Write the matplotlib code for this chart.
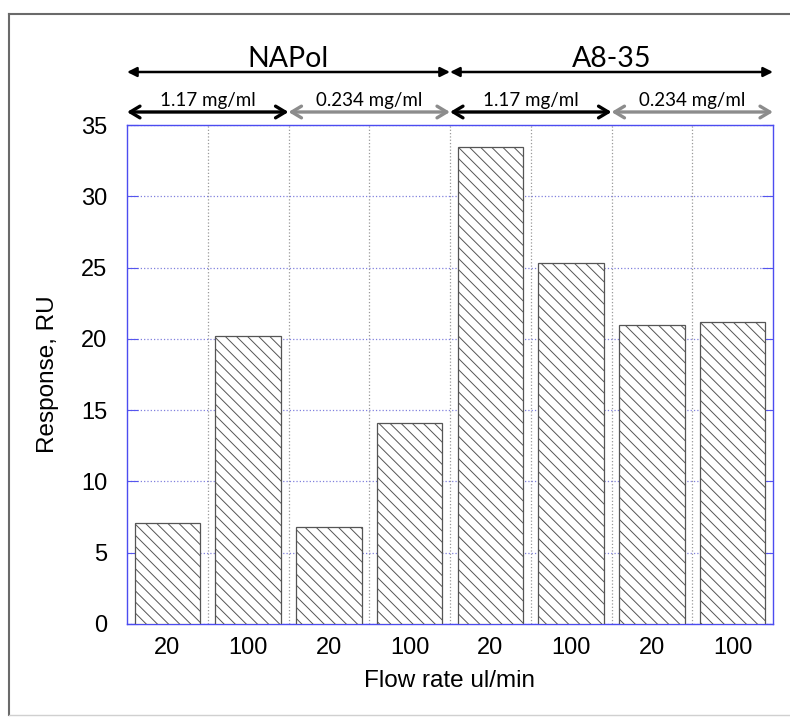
import matplotlib
matplotlib.use("Agg")
import matplotlib.pyplot as plt
import matplotlib.transforms as mtransforms
from matplotlib.lines import Line2D

flow_labels = ["20", "100", "20", "100", "20", "100", "20", "100"]
responses = [7.1, 20.2, 6.8, 14.1, 33.45, 25.35, 21.0, 21.15]
polymers = ["NAPol", "A8-35"]
concentrations = ["1.17 mg/ml", "0.234 mg/ml", "1.17 mg/ml", "0.234 mg/ml"]
conc_colors = ["black", "#8c8c8c", "black", "#8c8c8c"]

plt.rcParams['font.family'] = ['Liberation Sans', 'DejaVu Sans']
plt.rcParams['hatch.color'] = '#5a5a5a'
plt.rcParams['hatch.linewidth'] = 0.7

fig = plt.figure(figsize=(7.9, 7.17), dpi=100)
ax = fig.add_axes([127/790, 1-624/717, (773-127)/790, (624-125)/717])

x = [i + 0.5 for i in range(len(responses))]
ax.bar(x, responses, width=0.81, color="white", edgecolor="#555555",
       linewidth=0.9, hatch="\\\\\\", zorder=3)

ax.set_xlim(0, 8)
ax.set_ylim(0, 35)
ax.set_yticks(range(0, 36, 5))
ax.set_xticks(x)
ax.set_xticklabels(flow_labels)
ax.set_xticks(range(1, 8), minor=True)
ax.tick_params(axis='x', which='major', length=0, labelsize=17, pad=9)
ax.tick_params(axis='x', which='minor', length=0)
ax.tick_params(axis='y', which='major', direction='in', length=8, color='#5555ee',
               labelsize=17, right=True, pad=14)
ax.yaxis.grid(True, which='major', linestyle=':', color='#8080dd', linewidth=0.9, zorder=0)
ax.xaxis.grid(True, which='minor', linestyle=':', color='#999999', linewidth=0.9, zorder=0)
ax.set_axisbelow(True)
for s in ax.spines.values():
    s.set_color('#4c4cf0')
    s.set_linewidth(1.0)

ax.set_xlabel("Flow rate ul/min", fontsize=17.5, labelpad=8)
ax.set_ylabel("Response, RU", fontsize=17.5, labelpad=16)

trans = mtransforms.blended_transform_factory(ax.transData, fig.transFigure)
y_top = 1 - 72/717
y_low = 1 - 112/717
top_font = ['Lato', 'DejaVu Sans']

for i, name in enumerate(polymers):
    x0, x1 = i * 4, i * 4 + 4
    ax.annotate("", xy=(x0, y_top), xytext=(x1, y_top), xycoords=trans, textcoords=trans,
                arrowprops=dict(arrowstyle="<|-|>", color="black", lw=1.8,
                                mutation_scale=14, shrinkA=0, shrinkB=0),
                annotation_clip=False)
    ax.text((x0 + x1) / 2, y_top + 5/717, name, transform=trans, ha='center', va='baseline',
            fontsize=20.5, family=top_font)

for j, (lab, col) in enumerate(zip(concentrations, conc_colors)):
    x0, x1 = j * 2, j * 2 + 2
    ax.annotate("", xy=(x0, y_low), xytext=(x1, y_low), xycoords=trans, textcoords=trans,
                arrowprops=dict(arrowstyle="<->,head_length=0.5,head_width=0.3", color=col, lw=2.4,
                                mutation_scale=14, shrinkA=0, shrinkB=0),
                annotation_clip=False)
    ax.text((x0 + x1) / 2, y_low + 6/717, lab, transform=trans, ha='center', va='baseline',
            fontsize=13.5, family=top_font)

# figure frame
L, T, B = 9/790, 1-14/717, 1-715/717
fig.add_artist(Line2D([L, L], [B, T], transform=fig.transFigure, color='#6a6a6a', lw=1.5))
fig.add_artist(Line2D([L, 1.0], [T, T], transform=fig.transFigure, color='#6a6a6a', lw=1.5))
fig.add_artist(Line2D([L, 1.0], [B, B], transform=fig.transFigure, color='#d0d0d0', lw=1.0))

fig.savefig("out.png", dpi=100, facecolor="white")
